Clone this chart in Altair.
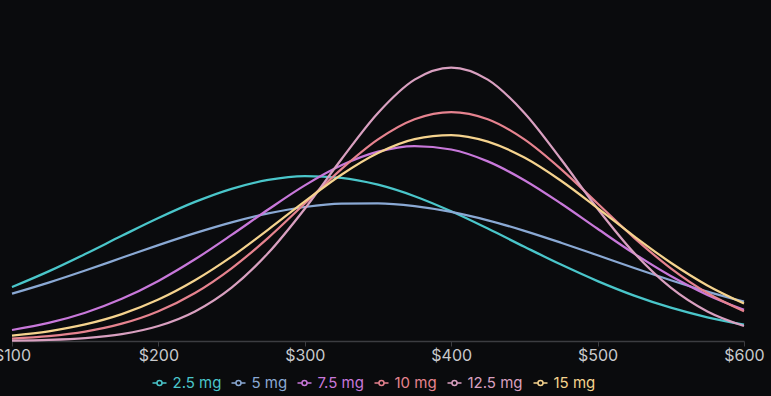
import altair as alt
import pandas as pd
import jinja2

prices = [100, 125, 150, 175, 200, 225, 250, 275, 300, 325, 350,
          375, 400, 425, 450, 475, 500, 525, 550, 575, 600]

doses = ["2.5 mg", "5 mg", "7.5 mg", "10 mg", "12.5 mg", "15 mg"]
colors = ["#4ac6ca", "#8aa9d4", "#c878da", "#e6838f", "#d9a0c0", "#f5d38e"]

v_2_5 = [53.9, 69.6, 87.0, 105.2, 123.0, 139.1, 152.2, 161.1, 164.9, 163.2, 156.3,
         144.8, 129.7, 112.4, 94.2, 76.4, 59.9, 45.4, 33.3, 23.7, 16.3]
v_5 = [47.3, 58.4, 70.5, 83.2, 95.9, 107.9, 118.7, 127.6, 134.0, 137.4, 137.7,
       134.9, 129.1, 120.7, 110.2, 98.3, 85.7, 73.0, 60.8, 49.4, 39.3]
v_7_5 = [11.0, 18.1, 28.3, 42.2, 60.1, 81.7, 106.1, 131.5, 155.6, 175.7, 189.4,
         195.0, 191.5, 179.6, 160.8, 137.5, 112.2, 87.4, 65.0, 46.1, 31.2]
v_10 = [2.3, 4.8, 9.4, 17.3, 29.8, 48.0, 72.7, 103.2, 137.5, 171.9, 201.6,
        221.8, 229.0, 221.8, 201.6, 171.9, 137.5, 103.2, 72.7, 48.0, 29.8]
v_12_5 = [0.4, 1.1, 2.9, 6.9, 15.0, 29.6, 53.4, 88.0, 132.3, 181.8, 228.1,
          261.4, 273.5, 261.4, 228.1, 181.8, 132.3, 88.0, 53.4, 29.6, 15.0]
v_15 = [5.4, 9.7, 16.6, 26.9, 41.4, 60.7, 84.3, 111.4, 139.6, 166.3, 188.0,
        201.9, 206.0, 199.4, 183.4, 160.2, 132.9, 104.7, 78.3, 55.6, 37.5]

series = [v_2_5, v_5, v_7_5, v_10, v_12_5, v_15]
rows = []
for dose, vals in zip(doses, series):
    for p, v in zip(prices, vals):
        rows.append({"price": p, "value": v, "dose": dose})
df = pd.DataFrame(rows)

bg = "#0a0b0d"
sym = "M-1,0H-0.36M0.36,0H1M0.36,0A0.36,0.36,0,1,1,-0.36,0A0.36,0.36,0,1,1,0.36,0Z"

chart = alt.Chart(df).mark_line(strokeWidth=2.25, interpolate="monotone").encode(
    x=alt.X("price:Q",
            scale=alt.Scale(domain=[100, 600], nice=False, zero=False),
            axis=alt.Axis(values=[100, 200, 300, 400, 500, 600], format="$.0f",
                          title=None, grid=False, domainColor="#3c3d41",
                          domainWidth=1.5, tickColor="#3c3d41", tickSize=5,
                          labelColor="#c8c9cc", labelFont="Inter",
                          labelFontSize=16, labelPadding=1, labelFlush=False)),
    y=alt.Y("value:Q", scale=alt.Scale(domain=[0, 333], nice=False), axis=None),
    color=alt.Color("dose:N",
                    scale=alt.Scale(domain=doses, range=colors),
                    sort=doses,
                    legend=alt.Legend(orient="none", legendX=139.5, legendY=367,
                                      direction="horizontal",
                                      title=None, symbolType=sym, symbolSize=196,
                                      symbolStrokeWidth=1.5, symbolFillColor=bg,
                                      labelFont="Inter", labelFontSize=15,
                                      labelOffset=5, columnPadding=7,
                                      labelColor={"expr": "scale('color', datum.value)"})),
).properties(
    width=732, height=333,
    background=bg,
    padding={"left": 12, "top": 8, "right": 27, "bottom": 55},
    autosize=alt.AutoSizeParams(type="none"),
).configure_view(stroke=None)

TEMPLATE = jinja2.Template("""<!DOCTYPE html>
<html>
<head>
  <style>
    html, body { margin: 0; padding: 0; background: #0a0b0d; overflow: hidden; }
    #{{ output_div }}.vega-embed { width: 100%; display: flex; }
  </style>
  <script type="text/javascript" src="{{ base_url }}/vega@{{ vega_version }}"></script>
  <script type="text/javascript" src="{{ base_url }}/vega-lite@{{ vegalite_version }}"></script>
  <script type="text/javascript" src="{{ base_url }}/vega-embed@{{ vegaembed_version }}"></script>
</head>
<body>
  <div id="{{ output_div }}"></div>
  <script>
    (function(vegaEmbed) {
      var spec = {{ spec }};
      var embedOpt = {{ embed_options }};
      const el = document.getElementById('{{ output_div }}');
      vegaEmbed("#{{ output_div }}", spec, embedOpt).catch(function(error) {
        el.innerHTML = '<div style="color:red;">' + error.message + '</div>';
      });
    })(vegaEmbed);
  </script>
</body>
</html>
""")

try:
    chart.save("out.html", embed_options={"renderer": "svg", "actions": False},
               template=TEMPLATE)
except Exception:
    chart.save("out.html", embed_options={"renderer": "svg", "actions": False})
